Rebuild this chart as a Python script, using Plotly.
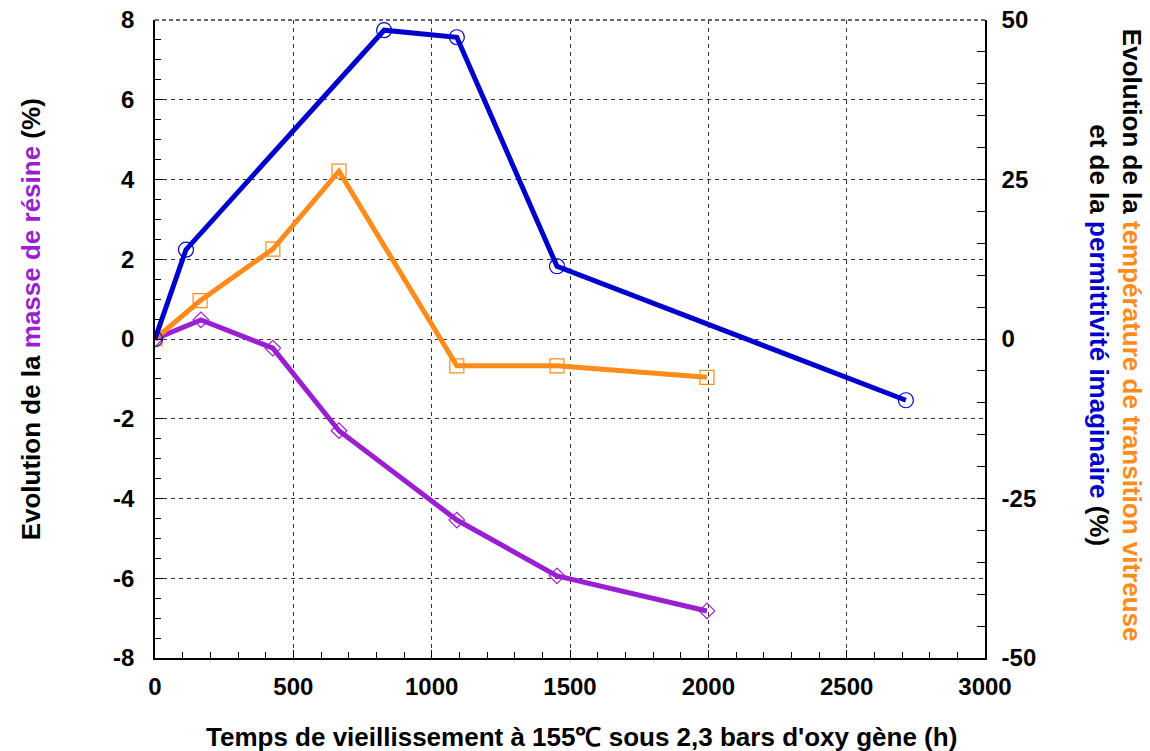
import plotly.graph_objects as go

# Data
t_perm = [0, 112, 828, 1091, 1453, 2714]
perm = [0, 14.0, 48.4, 47.3, 11.4, -9.6]

t_tg = [0, 163, 426, 665, 1091, 1453, 1995]
tg = [0, 6.0, 14.1, 26.3, -4.2, -4.2, -6.0]

t_mass = [0, 166, 426, 665, 1091, 1453, 1995]
mass = [0, 0.48, -0.23, -2.3, -4.54, -5.94, -6.82]

x_ticks = [0, 500, 1000, 1500, 2000, 2500, 3000]
x_labels = ["0", "500", "1000", "1500", "2000", "2500", "3000"]
y_ticks = [-8, -6, -4, -2, 0, 2, 4, 6, 8]
y_labels = ["-8", "-6", "-4", "-2", "0", "2", "4", "6", "8"]
y2_ticks = [-50, -25, 0, 25, 50]
y2_labels = ["-50", "-25", "0", "25", "50"]

BLUE = "#0000CC"
ORANGE = "#FF8C1A"
PURPLE = "#9A1FD2"
FONT = "Liberation Sans"

fig = go.Figure()
fig.add_trace(go.Scatter(x=t_mass, y=mass, mode="lines+markers", yaxis="y",
                         line=dict(color=PURPLE, width=5),
                         marker=dict(symbol="diamond-open", size=12, color=PURPLE, line=dict(width=1.2))))
fig.add_trace(go.Scatter(x=t_tg, y=tg, mode="lines+markers", yaxis="y2",
                         line=dict(color=ORANGE, width=5),
                         marker=dict(symbol="square-open", size=14, color=ORANGE, line=dict(width=1.2))))
fig.add_trace(go.Scatter(x=t_perm, y=perm, mode="lines+markers", yaxis="y2",
                         line=dict(color=BLUE, width=5),
                         marker=dict(symbol="circle-open", size=15, color=BLUE, line=dict(width=1.2))))

tickfont = dict(family=FONT, size=24, color="black", weight="bold")
grid = dict(showgrid=True, gridcolor="#333333", griddash="4px,4px", gridwidth=1)
fig.update_layout(
    width=1150, height=751,
    margin=dict(l=155, r=165, t=20, b=93, autoexpand=False),
    paper_bgcolor="white", plot_bgcolor="white",
    showlegend=False,
    font=dict(family=FONT, color="black"),
    xaxis=dict(range=[0, 3000], tickvals=x_ticks, ticktext=x_labels, tickfont=tickfont,
               **grid, automargin=False,
               showline=True, linecolor="black", linewidth=1.5,
               ticks="inside", ticklen=8, tickcolor="black", ticklabelstandoff=6,
               ticklabeloverflow="allow",
               minor=dict(dtick=100, ticks="inside", ticklen=6, tickcolor="black", showgrid=False),
               zeroline=False),
    yaxis=dict(range=[-8, 8], tickvals=y_ticks, ticktext=y_labels, tickfont=tickfont,
               **grid, automargin=False,
               showline=True, linecolor="black", linewidth=1.5,
               ticks="inside", ticklen=8, tickcolor="black", ticklabelstandoff=14,
               ticklabeloverflow="allow",
               minor=dict(dtick=0.5, ticks="inside", ticklen=6, tickcolor="black", showgrid=False),
               zeroline=False),
    yaxis2=dict(range=[-50, 50], tickvals=y2_ticks, ticktext=y2_labels, tickfont=tickfont,
                overlaying="y", side="right", automargin=False,
                showgrid=False, showline=True, linecolor="black", linewidth=1.5,
                ticks="inside", ticklen=8, tickcolor="black", ticklabelstandoff=10,
                ticklabeloverflow="allow",
                minor=dict(dtick=5, ticks="inside", ticklen=8, tickcolor="black"),
                zeroline=False),
)

# top frame edge (dashed, as in the reference)
fig.add_shape(type="line", xref="paper", yref="paper", x0=0, x1=1, y0=1, y1=1,
              line=dict(color="#333333", width=1.5, dash="4px,3px"), layer="below")

fig.add_annotation(
    xref="paper", yref="paper", x=-0.15, y=0.53, xanchor="center", yanchor="middle",
    textangle=-90, showarrow=False,
    text=f"<b>Evolution de la <span style='color:{PURPLE}'>masse de résine</span> (%)</b>",
    font=dict(family=FONT, size=26, color="black"))

fig.add_annotation(
    xref="paper", yref="paper", x=1.157, y=0.506, xanchor="center", yanchor="middle",
    textangle=90, showarrow=False, align="center",
    text=(f"<b>Evolution de la <span style='color:{ORANGE}'>température de transition vitreuse</span></b><br>"
          f"<b>et de la <span style='color:{BLUE}'>permittivité imaginaire</span> (%)</b>"),
    font=dict(family=FONT, size=26, color="black"))

fig.add_annotation(
    xref="paper", yref="paper", x=0.514, y=-0.124, xanchor="center", yanchor="middle",
    showarrow=False,
    text="<b>Temps de vieillissement à 155℃ sous 2,3 bars d'oxy gène (h)</b>",
    font=dict(family=FONT, size=26, color="black"))

fig.write_html("out.html", config={"displayModeBar": False})

# remove the default page margin so the figure sits at the window's top-left corner
with open("out.html", "r", encoding="utf-8") as f:
    html = f.read()
html = html.replace("<body>", "<body style=\"margin:0;overflow:hidden\">", 1)
with open("out.html", "w", encoding="utf-8") as f:
    f.write(html)
